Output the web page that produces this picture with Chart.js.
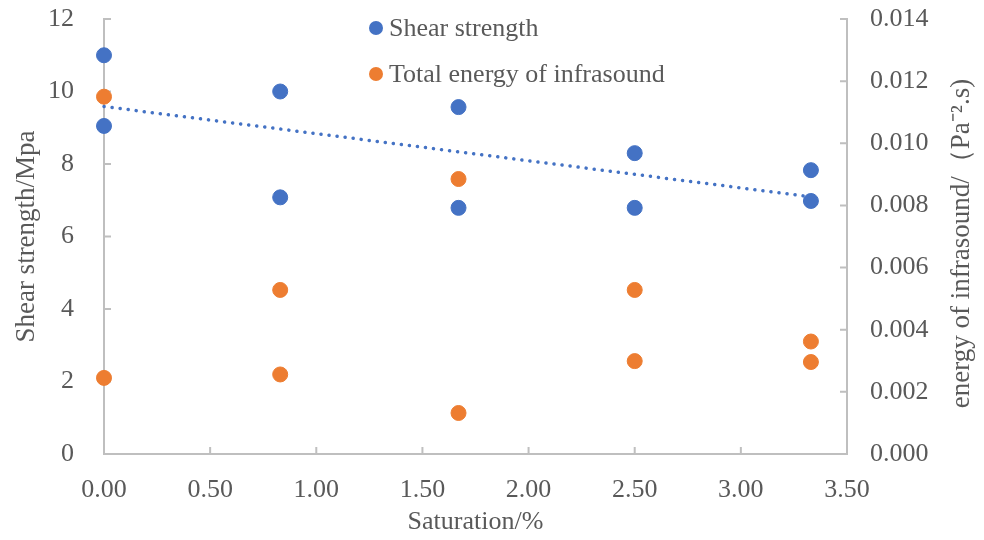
<!DOCTYPE html>
<html>
<head>
<meta charset="utf-8">
<script src="https://cdn.jsdelivr.net/npm/chart.js@4.4.1/dist/chart.umd.min.js"></script>
<style>
  html, body { margin: 0; padding: 0; background: #fff; }
  #wrap { width: 984px; height: 540px; }
</style>
</head>
<body>
<div id="wrap"><canvas id="chart" width="984" height="540"></canvas></div>
<script>
// saturation (%) of each specimen
const saturation = [0, 0, 0.83, 0.83, 1.67, 1.67, 2.5, 2.5, 3.33, 3.33];
// shear strength, MPa (left axis)
const shearStrength = [11.0, 9.05, 10.0, 7.08, 9.57, 6.79, 8.30, 6.79, 7.83, 6.98];
// total infrasound energy, Pa^-2.s (right axis)
const infrasoundEnergy = [0.0115, 0.00245, 0.00528, 0.00256, 0.00885, 0.00132, 0.00528, 0.00299, 0.00362, 0.00296];

const seriesNames = ['Shear strength', 'Total energy of infrasound'];
const xTitle = 'Saturation/%';
const leftTitle = 'Shear strength/Mpa';
const rightTitle = 'energy of infrasound/（Pa⁻².s)';

const BLUE = '#4472C4';
const ORANGE = '#ED7D31';
const AXIS = '#BFBFBF';
const TEXT = '#595959';
const FONT = "'Liberation Serif', 'Times New Roman', serif";

// linear trendline for shear strength (least squares)
const n = saturation.length;
const mx = saturation.reduce((a, b) => a + b, 0) / n;
const my = shearStrength.reduce((a, b) => a + b, 0) / n;
let sxy = 0, sxx = 0;
saturation.forEach((x, i) => {
    sxy += (x - mx) * (shearStrength[i] - my);
    sxx += (x - mx) * (x - mx);
});
const slope = sxy / sxx;
const intercept = my - slope * mx;
const xMin = Math.min(...saturation);
const xMax = Math.max(...saturation);
const trend = [
    { x: xMin, y: intercept + slope * xMin },
    { x: xMax, y: intercept + slope * xMax }
];

// short tick marks pointing into the plot area
const insideTicks = {
    id: 'insideTicks',
    beforeDatasetsDraw(chart) {
        const ctx = chart.ctx;
        const area = chart.chartArea;
        const len = 7;
        ctx.save();
        ctx.strokeStyle = AXIS;
        ctx.lineWidth = 2;
        ctx.beginPath();
        chart.scales.x.ticks.forEach(t => {
            const px = chart.scales.x.getPixelForValue(t.value);
            ctx.moveTo(px, area.bottom);
            ctx.lineTo(px, area.bottom - len);
        });
        chart.scales.y.ticks.forEach(t => {
            const py = chart.scales.y.getPixelForValue(t.value);
            ctx.moveTo(area.left, py);
            ctx.lineTo(area.left + len, py);
        });
        chart.scales.y1.ticks.forEach(t => {
            const py = chart.scales.y1.getPixelForValue(t.value);
            ctx.moveTo(area.right, py);
            ctx.lineTo(area.right - len, py);
        });
        ctx.stroke();
        ctx.restore();
    }
};

// right axis title, reading bottom to top like the left one
const rightAxisTitle = {
    id: 'rightAxisTitle',
    afterDraw(chart) {
        const ctx = chart.ctx;
        const area = chart.chartArea;
        ctx.save();
        ctx.translate(962, (area.top + area.bottom) / 2 + 7);
        ctx.rotate(-Math.PI / 2);
        ctx.font = '27px ' + FONT;
        ctx.fillStyle = TEXT;
        ctx.textAlign = 'center';
        ctx.textBaseline = 'middle';
        ctx.fillText(rightTitle, 0, 0);
        ctx.restore();
    }
};

// stacked legend sitting inside the top of the plot
const stackedLegend = {
    id: 'stackedLegend',
    afterDraw(chart) {
        const ctx = chart.ctx;
        const items = chart.data.datasets.filter(d => d.type !== 'line');
        ctx.save();
        ctx.font = '26px ' + FONT;
        ctx.textBaseline = 'middle';
        items.forEach((d, i) => {
            const cy = 28 + i * 46;
            ctx.fillStyle = d.backgroundColor;
            ctx.beginPath();
            ctx.arc(376, cy, 7, 0, Math.PI * 2);
            ctx.fill();
            ctx.fillStyle = TEXT;
            ctx.fillText(d.label, 389, cy + 1);
        });
        ctx.restore();
    }
};

const noPad = s => {
    s.paddingTop = 0;
    s.paddingBottom = 0;
    s.paddingLeft = 0;
    s.paddingRight = 0;
};

new Chart(document.getElementById('chart'), {
    type: 'scatter',
    data: {
        datasets: [
            {
                label: seriesNames[0],
                data: saturation.map((x, i) => ({ x: x, y: shearStrength[i] })),
                backgroundColor: BLUE,
                borderColor: BLUE,
                pointRadius: 7.5,
                clip: false,
                yAxisID: 'y'
            },
            {
                label: seriesNames[1],
                data: saturation.map((x, i) => ({ x: x, y: infrasoundEnergy[i] })),
                backgroundColor: ORANGE,
                borderColor: ORANGE,
                pointRadius: 7.5,
                clip: false,
                yAxisID: 'y1'
            },
            {
                type: 'line',
                label: 'Linear (Shear strength)',
                data: trend,
                borderColor: BLUE,
                borderWidth: 3.5,
                borderDash: [0.1, 8],
                borderCapStyle: 'round',
                pointRadius: 0,
                fill: false,
                clip: false,
                yAxisID: 'y'
            }
        ]
    },
    options: {
        responsive: false,
        animation: false,
        devicePixelRatio: 1,
        layout: { padding: { top: 19, left: 0, right: 0, bottom: 0 } },
        plugins: {
            legend: { display: false },
            tooltip: { enabled: false }
        },
        scales: {
            x: {
                type: 'linear',
                min: 0,
                max: 3.5,
                ticks: {
                    stepSize: 0.5,
                    color: TEXT,
                    font: { family: FONT, size: 26 },
                    padding: 21,
                    callback: v => v.toFixed(2)
                },
                grid: { display: true, drawOnChartArea: false, drawTicks: false, color: AXIS },
                border: { color: AXIS, width: 2 },
                title: {
                    display: true,
                    text: xTitle,
                    color: TEXT,
                    font: { family: FONT, size: 26 },
                    padding: { top: 0, bottom: 2 }
                },
                afterFit: s => { s.height = 86; noPad(s); }
            },
            y: {
                position: 'left',
                min: 0,
                max: 12,
                ticks: {
                    stepSize: 2,
                    color: TEXT,
                    font: { family: FONT, size: 26 },
                    padding: 30
                },
                grid: { display: true, drawOnChartArea: false, drawTicks: false, color: AXIS },
                border: { color: AXIS, width: 2 },
                title: {
                    display: true,
                    text: leftTitle,
                    color: TEXT,
                    font: { family: FONT, size: 27 },
                    padding: { top: 11, bottom: 0 }
                },
                afterFit: s => { s.width = 104; noPad(s); }
            },
            y1: {
                position: 'right',
                min: 0,
                max: 0.014,
                ticks: {
                    stepSize: 0.002,
                    color: TEXT,
                    font: { family: FONT, size: 26 },
                    padding: 23,
                    callback: v => v.toFixed(3)
                },
                grid: { display: true, drawOnChartArea: false, drawTicks: false, color: AXIS },
                border: { color: AXIS, width: 2 },
                title: { display: false },
                afterFit: s => { s.width = 137; noPad(s); }
            }
        }
    },
    plugins: [insideTicks, rightAxisTitle, stackedLegend]
});
</script>
</body>
</html>
